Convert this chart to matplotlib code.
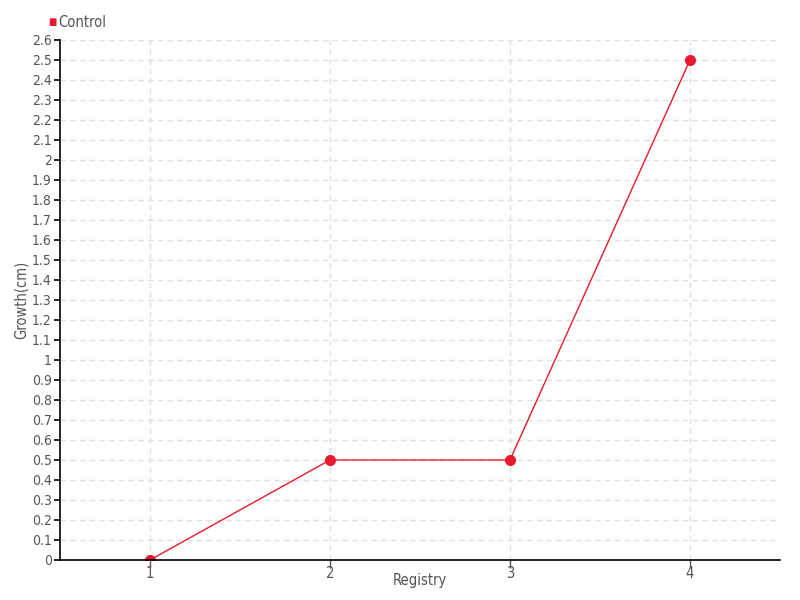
import matplotlib
matplotlib.use('Agg')
import matplotlib.pyplot as plt
import numpy as np

plt.rcParams['font.family'] = ['DejaVu Sans']
plt.rcParams['font.stretch'] = 'condensed'

registry = [1, 2, 3, 4]
growth = [0, 0.5, 0.5, 2.5]
series_name = 'Control'
y_ticks = [round(i * 0.1, 1) for i in range(27)]

red = '#e8192c'
grey = '#555555'

fig = plt.figure(figsize=(8, 6), dpi=100)
ax = fig.add_axes([0.075, 0.0667, 0.9, 0.8667])

ax.plot(registry, growth, color=red, lw=1, marker='o', ms=7, label=series_name)

ax.set_xlim(0.5, 4.5)
ax.set_ylim(0, 2.6)
ax.set_xticks(registry)
ax.set_yticks(y_ticks)
ax.set_yticklabels(['%g' % v for v in y_ticks])

ax.grid(True, color='#e0e0e0', ls=(0, (4, 3)), lw=1)
ax.set_axisbelow(True)
for s in ['top', 'right']:
    ax.spines[s].set_visible(False)
ax.spines['left'].set_linewidth(1.2)
ax.spines['bottom'].set_linewidth(1.2)

ax.tick_params(axis='y', length=4, width=1.2, color='black', labelcolor=grey, labelsize=10, pad=2)
ax.tick_params(axis='x', length=6, width=1, color=grey, labelcolor=grey, labelsize=10.5, pad=-2)

ax.set_xlabel('Registry', color=grey, fontsize=10.5)
ax.set_ylabel('Growth(cm)', color=grey, fontsize=10.5)
ax.xaxis.set_label_coords(0.5, -0.025)
ax.yaxis.set_label_coords(-0.044, 0.5)

fig.text(0.0655, 0.963, u'\u25a0', color=red, fontsize=7, va='center', ha='center')
fig.text(0.073, 0.963, series_name, color=grey, fontsize=10.5, va='center', ha='left')

fig.savefig('out.png', dpi=100)
